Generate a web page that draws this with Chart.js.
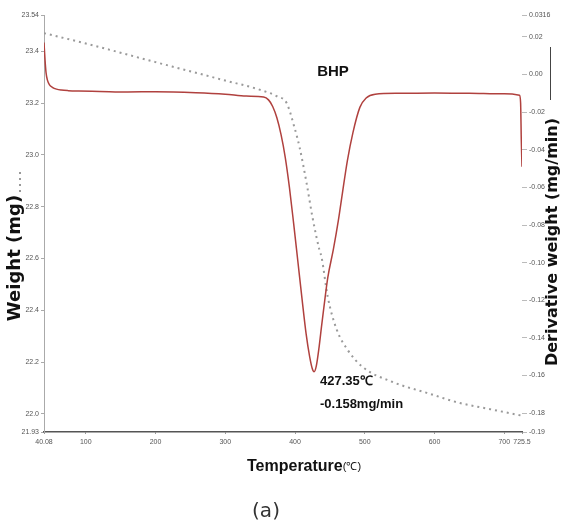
<!DOCTYPE html>
<html>
<head>
<meta charset="utf-8">
<script src="https://cdn.jsdelivr.net/npm/chart.js@4.4.1/dist/chart.umd.min.js"></script>
<style>
    body { margin: 0; background: #fff; }
    canvas { display: block; }
</style>
</head>
<body>
<canvas id="tgaChart" width="563" height="527"></canvas>
<script>
// derivative weight (red solid line, right axis)
const derivTemp = [40.08, 41.5, 43, 45, 48, 52, 58, 65, 75, 90, 120, 160, 200, 258, 300, 330, 355, 362, 368, 374, 380, 386, 392, 398, 404, 410, 416, 421, 424.5, 427.35, 430.5, 434.5, 438, 441, 447, 455, 462, 468, 475, 483, 493, 502, 515, 550, 600, 650, 700, 722, 723.5, 724.5, 725.5];
const derivValues = [0.0170, 0.0080, 0.0010, -0.0030, -0.0055, -0.0068, -0.0078, -0.0083, -0.0086, -0.0088, -0.0090, -0.0093, -0.0092, -0.0097, -0.0105, -0.0115, -0.0120, -0.0135, -0.0170, -0.0230, -0.0320, -0.0440, -0.0600, -0.0790, -0.0990, -0.1190, -0.1380, -0.1500, -0.1560, -0.1580, -0.1550, -0.1450, -0.1340, -0.1250, -0.1080, -0.0930, -0.0780, -0.0630, -0.0460, -0.0310, -0.0175, -0.0125, -0.0105, -0.0100, -0.0098, -0.0100, -0.0103, -0.0110, -0.0150, -0.0350, -0.0490];

// weight (grey dotted line, left axis)
const weightTemp = [40.08, 100, 200, 300, 349, 375, 388, 399, 406.5, 416.6, 425, 435, 438, 447, 460, 475.5, 497, 540, 589, 636.5, 680, 725.5];
const weightValues = [23.470, 23.430, 23.358, 23.287, 23.252, 23.225, 23.200, 23.108, 23.030, 22.891, 22.760, 22.633, 22.606, 22.451, 22.324, 22.247, 22.181, 22.123, 22.081, 22.042, 22.018, 21.993];

const xTicks = [40.08, 100, 200, 300, 400, 500, 600, 700, 725.5];
const xTickLabels = ["40.08", "100", "200", "300", "400", "500", "600", "700", "725.5"];
const leftTicks = [23.54, 23.4, 23.2, 23.0, 22.8, 22.6, 22.4, 22.2, 22.0, 21.93];
const leftTickLabels = ["23.54", "23.4", "23.2", "23.0", "22.8", "22.6", "22.4", "22.2", "22.0", "21.93"];
const rightTicks = [0.0316, 0.02, 0.00, -0.02, -0.04, -0.06, -0.08, -0.10, -0.12, -0.14, -0.16, -0.18, -0.19];
const rightTickLabels = ["0.0316", "0.02", "0.00", "-0.02", "-0.04", "-0.06", "-0.08", "-0.10", "-0.12", "-0.14", "-0.16", "-0.18", "-0.19"];

const tickFont = { family: "Liberation Sans", size: 7 };

function toPoints(xs, ys) {
    return xs.map((x, i) => ({ x, y: ys[i] }));
}

function fixTicks(values) {
    return (scale) => { scale.ticks = values.map(v => ({ value: v })); };
}

const labelsPlugin = {
    id: "labelsPlugin",
    afterDraw(chart) {
        const ctx = chart.ctx;
        ctx.save();
        ctx.fillStyle = "#111";
        ctx.textBaseline = "middle";

        ctx.textAlign = "center";
        ctx.font = "bold 15px 'Liberation Sans'";
        ctx.fillText("BHP", 333, 72);

        ctx.textAlign = "left";
        ctx.font = "bold 13px 'Liberation Sans'";
        ctx.fillText("427.35\u2103", 320, 381);
        ctx.fillText("-0.158mg/min", 320, 404);

        // axis titles
        ctx.save();
        ctx.translate(15, 258);
        ctx.rotate(-Math.PI / 2);
        ctx.textAlign = "center";
        ctx.font = "bold 18px 'DejaVu Sans'";
        ctx.fillText("Weight (mg)", 0, 0);
        ctx.restore();

        ctx.save();
        ctx.translate(553, 242);
        ctx.rotate(-Math.PI / 2);
        ctx.textAlign = "center";
        ctx.font = "bold 16px 'DejaVu Sans'";
        ctx.fillText("Derivative weight (mg/min)", 0, 0);
        ctx.restore();

        ctx.textAlign = "left";
        ctx.font = "bold 16px 'Liberation Sans'";
        ctx.fillText("Temperature", 247, 467);
        const w = ctx.measureText("Temperature").width;
        ctx.font = "11px 'Liberation Sans'";
        ctx.fillText("(\u2103)", 247 + w, 467);

        ctx.textAlign = "center";
        ctx.fillStyle = "#333";
        ctx.font = "20px 'DejaVu Sans'";
        ctx.fillText("(a)", 266, 512);

        // legend marks next to the axis titles
        ctx.strokeStyle = "#999";
        ctx.lineWidth = 2;
        ctx.setLineDash([2, 4]);
        ctx.beginPath();
        ctx.moveTo(20, 172);
        ctx.lineTo(20, 196);
        ctx.stroke();

        ctx.setLineDash([]);
        ctx.strokeStyle = "#444";
        ctx.lineWidth = 1;
        ctx.beginPath();
        ctx.moveTo(550.5, 47);
        ctx.lineTo(550.5, 100);
        ctx.stroke();
        ctx.restore();
    }
};

const ctx = document.getElementById("tgaChart").getContext("2d");
new Chart(ctx, {
    type: "line",
    data: {
        datasets: [
            {
                label: "Derivative weight",
                data: toPoints(derivTemp, derivValues),
                yAxisID: "y2",
                borderColor: "#b0413e",
                borderWidth: 1.5,
                pointRadius: 0,
                cubicInterpolationMode: "monotone",
                fill: false
            },
            {
                label: "Weight",
                data: toPoints(weightTemp, weightValues),
                yAxisID: "y",
                borderColor: "#9a9a9a",
                borderWidth: 2,
                borderDash: [2, 4],
                pointRadius: 0,
                cubicInterpolationMode: "monotone",
                fill: false
            }
        ]
    },
    options: {
        responsive: false,
        animation: false,
        layout: { padding: { top: 15, left: 0, right: 0, bottom: 0 } },
        plugins: {
            legend: { display: false },
            tooltip: { enabled: false }
        },
        scales: {
            x: {
                type: "linear",
                min: 40.08,
                max: 725.5,
                afterBuildTicks: fixTicks(xTicks),
                afterFit: (scale) => { scale.height = 95; },
                grid: { drawOnChartArea: false, drawTicks: true, tickLength: 2, color: "#999" },
                border: { display: true, color: "#555", width: 1.5 },
                ticks: {
                    autoSkip: false,
                    maxRotation: 0,
                    padding: 4,
                    color: "#555",
                    font: tickFont,
                    callback: (v, i) => xTickLabels[i]
                }
            },
            y: {
                type: "linear",
                position: "left",
                min: 21.93,
                max: 23.54,
                afterBuildTicks: fixTicks(leftTicks),
                afterFit: (scale) => { scale.width = 44; },
                grid: { drawOnChartArea: false, drawTicks: true, tickLength: 3, color: "#aaa" },
                border: { display: true, color: "#aaa", width: 1 },
                ticks: {
                    autoSkip: false,
                    padding: 2,
                    color: "#555",
                    font: tickFont,
                    callback: (v, i) => leftTickLabels[i]
                }
            },
            y2: {
                type: "linear",
                position: "right",
                min: -0.19,
                max: 0.0316,
                afterBuildTicks: fixTicks(rightTicks),
                afterFit: (scale) => { scale.width = 41; },
                grid: { drawOnChartArea: false, drawTicks: true, tickLength: 5, color: "#bbb" },
                border: { display: false },
                ticks: {
                    autoSkip: false,
                    padding: 2,
                    color: "#555",
                    font: tickFont,
                    callback: (v, i) => rightTickLabels[i]
                }
            }
        }
    },
    plugins: [labelsPlugin]
});
</script>
</body>
</html>
